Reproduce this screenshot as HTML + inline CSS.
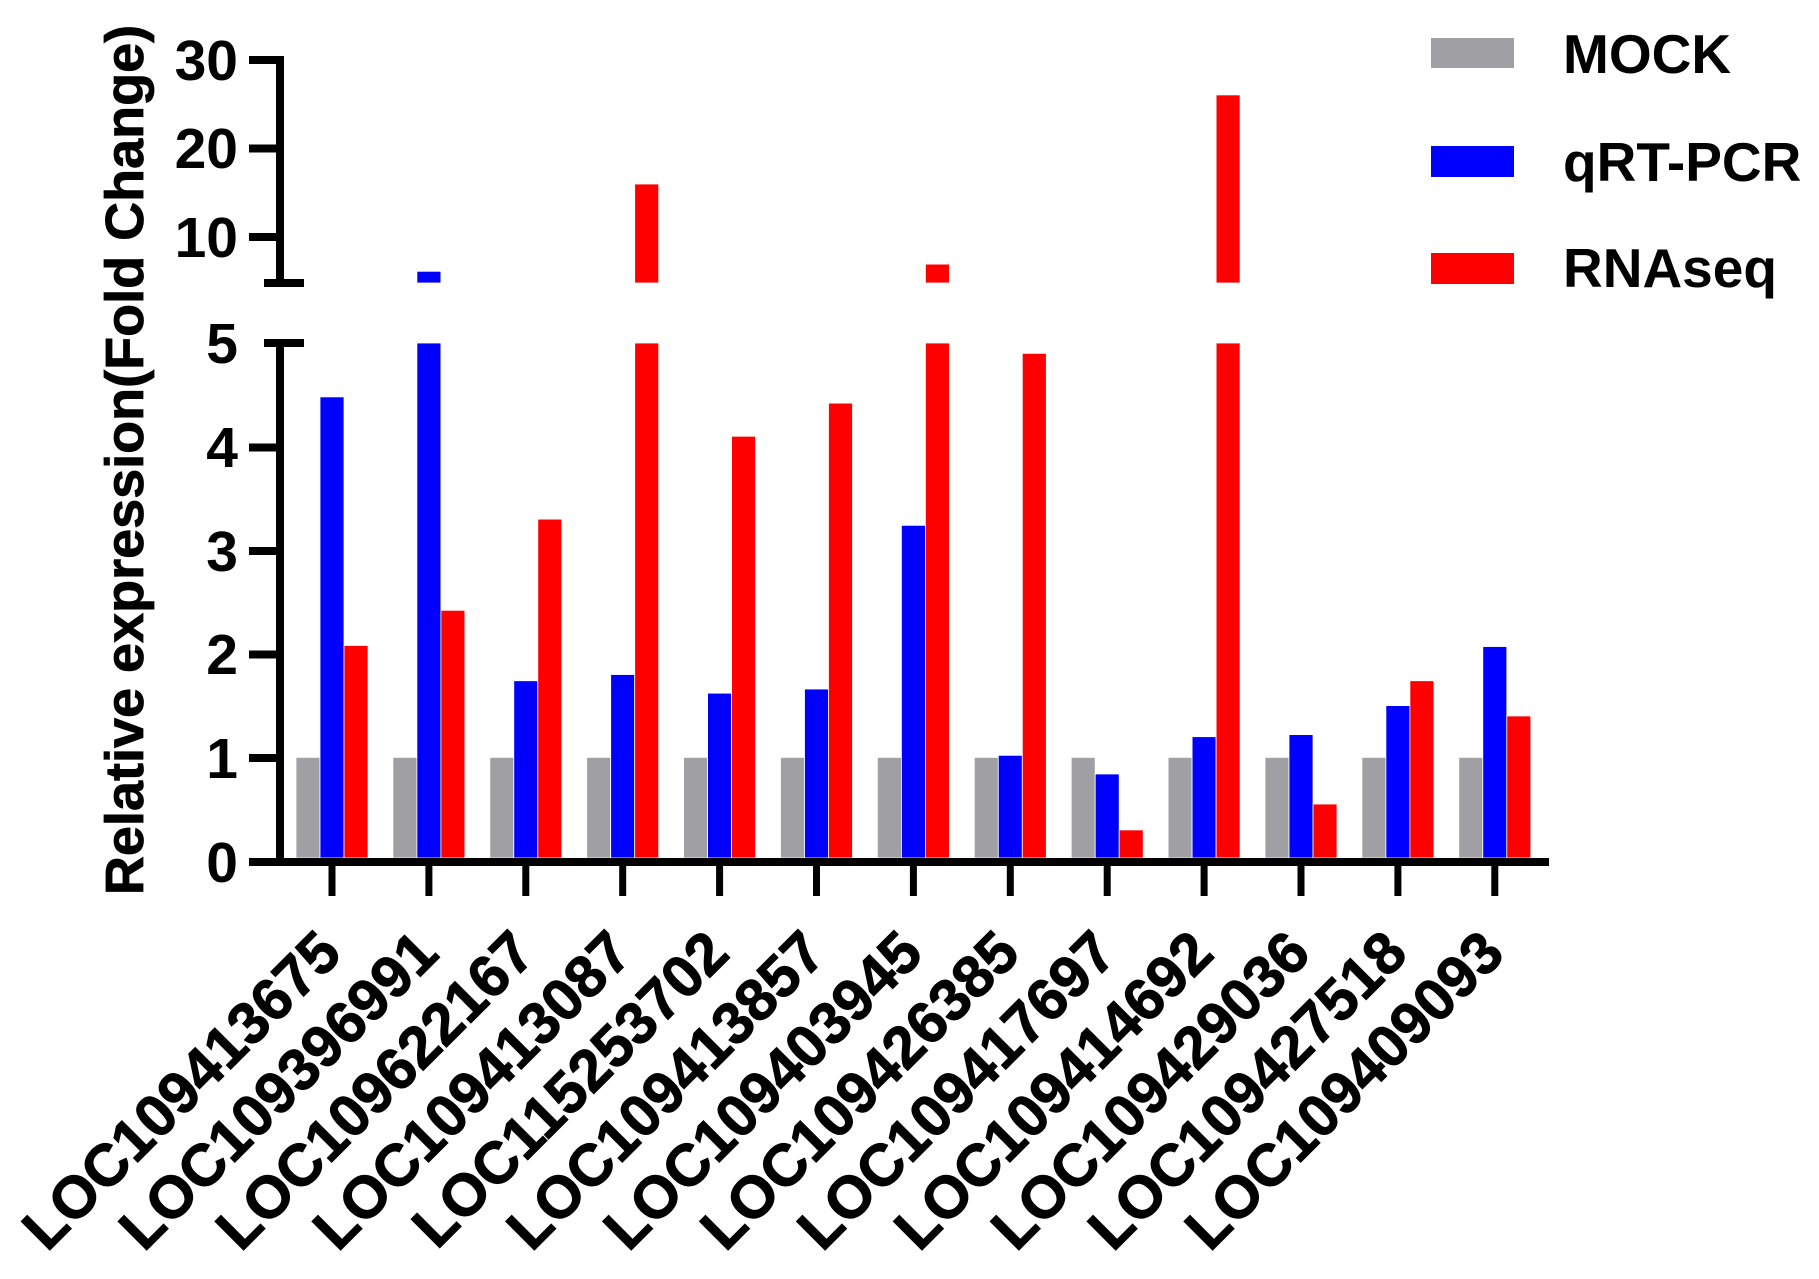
<!DOCTYPE html>
<html><head><meta charset="utf-8"><style>html,body{margin:0;padding:0;background:#fff}svg{display:block}</style></head>
<body>
<svg width="1819" height="1279" viewBox="0 0 1819 1279" xmlns="http://www.w3.org/2000/svg" font-family="Liberation Sans, Arial, sans-serif" font-weight="bold">
<rect width="1819" height="1279" fill="#fff"/>
<g id="bars" stroke="#fff" stroke-width="0.8"></g>
<g stroke="#000" stroke-width="8" fill="none">
  <line x1="280" y1="57" x2="280" y2="283"/>
  <line x1="280" y1="343" x2="280" y2="862"/>
  <line x1="249" y1="60" x2="284" y2="60"/>
  <line x1="249" y1="148.5" x2="284" y2="148.5"/>
  <line x1="249" y1="237" x2="284" y2="237"/>
  <line x1="264" y1="283" x2="304" y2="283"/>
  <line x1="264" y1="343" x2="304" y2="343"/>
  <line x1="249" y1="447.5" x2="284" y2="447.5"/>
  <line x1="249" y1="551" x2="284" y2="551"/>
  <line x1="249" y1="654.5" x2="284" y2="654.5"/>
  <line x1="249" y1="758" x2="284" y2="758"/>
  <line x1="249" y1="862" x2="1549" y2="862"/>
</g>
<g id="ticks" stroke="#000" stroke-width="7"></g>
<g font-size="57" text-anchor="end" fill="#000">
  <text x="238" y="80">30</text>
  <text x="238" y="168">20</text>
  <text x="238" y="257">10</text>
  <text x="238" y="363">5</text>
  <text x="238" y="467">4</text>
  <text x="238" y="571">3</text>
  <text x="238" y="674">2</text>
  <text x="238" y="778">1</text>
  <text x="238" y="882">0</text>
</g>
<text transform="translate(143,460) rotate(-90)" font-size="54" text-anchor="middle" fill="#000" stroke="#000" stroke-width="0.8">Relative expression(Fold Change)</text>
<g id="labels" font-size="59" text-anchor="end" fill="#000" stroke="#000" stroke-width="1"></g>
<rect x="1431" y="38" width="83" height="30" fill="#a0a0a4"/>
<rect x="1431" y="146" width="83" height="31" fill="#0000ff"/>
<rect x="1431" y="253" width="83" height="31" fill="#ff0000"/>
<g font-size="55" fill="#000">
  <text x="1563" y="73">MOCK</text>
  <text x="1563" y="181">qRT-PCR</text>
  <text x="1563" y="287">RNAseq</text>
</g>
<script>
var data=[[4.48,2.08],[6.3,2.42],[1.74,3.3],[1.8,16],[1.62,4.1],[1.66,4.42],[3.24,7.1],[1.02,4.9],[0.84,0.3],[1.2,25.9],[1.22,0.55],[1.5,1.74],[2.07,1.4]];
var names=["LOC109413675","LOC109396991","LOC109622167","LOC109413087","LOC115253702","LOC109413857","LOC109403945","LOC109426385","LOC109417697","LOC109414692","LOC109429036","LOC109427518","LOC109409093"];
var ns="http://www.w3.org/2000/svg";
var bars=document.getElementById("bars"),ticks=document.getElementById("ticks"),labels=document.getElementById("labels");
function rect(x,y,w,h,f){var r=document.createElementNS(ns,"rect");r.setAttribute("x",x);r.setAttribute("y",y);r.setAttribute("width",w);r.setAttribute("height",h);r.setAttribute("fill",f);bars.appendChild(r);}
function bar(x,v,f){var y0=858;
 if(v<=5){var t=861-v*103.6;rect(x,t,24,y0-t,f);}
 else{rect(x,343,24,y0-343,f);var t2=283-(v-5)*9;rect(x,t2,24,283-t2,f);}}
for(var i=0;i<13;i++){var c=332+96.9*i;
 bar(c-36,1,"#a0a0a4");bar(c-12,data[i][0],"#0000ff");bar(c+12,data[i][1],"#ff0000");
 var l=document.createElementNS(ns,"line");l.setAttribute("x1",c);l.setAttribute("x2",c);l.setAttribute("y1",862);l.setAttribute("y2",896);ticks.appendChild(l);
 var t=document.createElementNS(ns,"text");t.setAttribute("transform","translate("+(c+12)+",956) rotate(-45)");t.textContent=names[i];labels.appendChild(t);}
</script>
</svg>
</body></html>
